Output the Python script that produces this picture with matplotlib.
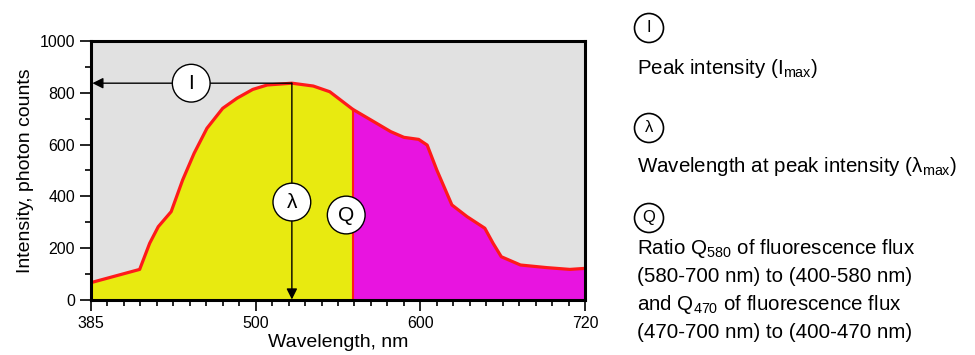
import numpy as np
import matplotlib
matplotlib.use("Agg")
import matplotlib.pyplot as plt

plt.rcParams['font.family'] = ['Liberation Sans', 'DejaVu Sans']
plt.rcParams['mathtext.fontset'] = 'custom'
plt.rcParams['mathtext.rm'] = 'Liberation Sans'
plt.rcParams['mathtext.default'] = 'regular'

# spectrum
wavelength = [385, 419, 426, 432, 441, 449, 457, 466, 477, 487, 498, 507, 522, 535, 545,
              559, 570, 582, 590, 599, 605, 612, 623, 634, 647, 653, 659, 673, 692, 709, 720]
counts = [67, 118, 219, 283, 341, 463, 566, 663, 740, 779, 813, 830, 837, 826, 804,
          736, 695, 650, 628, 620, 598, 502, 367, 322, 277, 219, 167, 135, 125, 118, 122]
split_wl = 559          # yellow / magenta boundary
peak_wl, peak_val = 522, 837

x_ticks = [385, 500, 600, 720]
y_ticks = [0, 200, 400, 600, 800, 1000]

# the wavelength axis is evenly spaced between its labelled ticks
wl_knots = [0, 385, 500, 600, 720, 2000]
pos_knots = [-385 / 115, 0, 1, 2, 3, 3 + 1280 / 120]


def fwd(x):
    return np.interp(x, wl_knots, pos_knots)


def inv(p):
    return np.interp(p, pos_knots, wl_knots)


fig = plt.figure(figsize=(9.75, 3.55), dpi=100)
ax = fig.add_axes([0.0933, 0.155, 0.5067, 0.7296])
ax.set_xscale('function', functions=(fwd, inv))
ax.set_facecolor('#e1e1e1')

wl = np.array(wavelength)
ct = np.array(counts)
left = wl <= split_wl
right = wl >= split_wl
ax.fill_between(wl[left], ct[left], color='#e8ea10', lw=0)
ax.fill_between(wl[right], ct[right], color='#e814e0', lw=0)
ax.plot(wl, ct, color='#ff1a1a', lw=2.3, solid_joinstyle='round')
ax.plot([split_wl, split_wl], [0, ct[wl == split_wl][0]], color='#ff1a1a', lw=1.5)

ax.set_xlim(385, 720)
ax.set_ylim(0, 1000)

# peak markers
arrow = dict(arrowstyle='-|>', color='black', lw=1, mutation_scale=16,
             shrinkA=0, shrinkB=0)
ax.annotate('', xy=(386, peak_val), xytext=(peak_wl, peak_val), arrowprops=arrow)
ax.annotate('', xy=(peak_wl, 2), xytext=(peak_wl, peak_val), arrowprops=arrow)

circ = dict(boxstyle='circle,pad=0.45', fc='white', ec='black', lw=1)
ax.text(455, peak_val, 'I', fontsize=15, ha='center', va='center', bbox=circ)
ax.text(peak_wl, 378, 'λ', fontsize=15, ha='center', va='center', bbox=circ)
ax.text(555, 328, 'Q', fontsize=15, ha='center', va='center', bbox=circ)

ax.set_xticks(x_ticks)
ax.set_xticks([v for v in inv(np.arange(0, 3.01, 0.1)) if round(v) not in x_ticks],
              minor=True)
ax.set_yticks(y_ticks)
ax.set_yticks(range(100, 1000, 200), minor=True)
ax.tick_params(which='major', length=8, width=1.2, labelsize=11.5, direction='out')
ax.tick_params(which='minor', length=4, width=1.2, direction='out')
for s in ax.spines.values():
    s.set_linewidth(2.2)

ax.set_xlabel('Wavelength, nm', fontsize=14, labelpad=2)
ax.set_ylabel('Intensity, photon counts', fontsize=14, labelpad=4)

# key on the right
H = 355.0
W = 975.0
kcirc = dict(boxstyle='circle,pad=0.42', fc='white', ec='black', lw=1.2)
for sym, y in [('I', 28), ('λ', 128), ('Q', 218)]:
    fig.text(649 / W, 1 - y / H, sym, fontsize=12, ha='center', va='center', bbox=kcirc)

key_lines = [
    ('Peak intensity (I$_{max}$)', 68),
    ('Wavelength at peak intensity (λ$_{max}$)', 167),
    ('Ratio Q$_{580}$ of fluorescence flux', 248),
    ('(580-700 nm) to (400-580 nm)', 277),
    ('and Q$_{470}$ of fluorescence flux', 304),
    ('(470-700 nm) to (400-470 nm)', 332),
]
for txt, y in key_lines:
    fig.text(637 / W, 1 - y / H, txt, fontsize=14.8, ha='left', va='center')

fig.savefig('out.png', dpi=100)
